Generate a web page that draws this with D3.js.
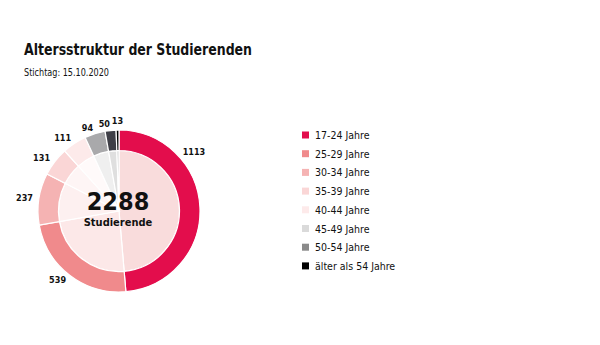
<!DOCTYPE html>
<html><head><meta charset="utf-8">
<script src="https://cdn.jsdelivr.net/npm/d3@7"></script>
<style>
html,body{margin:0;padding:0;background:#fff;}
svg text{font-family:"DejaVu Sans Condensed","Liberation Sans Narrow","Noto Sans",sans-serif;font-stretch:condensed;fill:#111;}
</style></head>
<body><svg id="c" width="600" height="345"></svg>
<script>
const categories = ["17-24 Jahre","25-29 Jahre","30-34 Jahre","35-39 Jahre","40-44 Jahre","45-49 Jahre","50-54 Jahre","älter als 54 Jahre"];
const values = [1113, 539, 237, 131, 111, 94, 50, 13];
const total = 2288;
const titleText = "Altersstruktur der Studierenden";
const subtitleText = "Stichtag: 15.10.2020";
const centerLabel = "Studierende";

const ringColors = ["#e30d4c","#f08a8c","#f5b3b3","#fad6d6","#fdeaea","#a9a9ab","#3f3f47","#000000"];
const innerColors = ["#f9dcdc","#fce8e8","#fdf0f0","#fef5f5","#fffafa","#efefef","#dfdfdf","#cccccc"];
const legendColors = ["#e30d4c","#f08a8c","#f5b3b3","#fad6d6","#fdeaea","#dadada","#8a8a8a","#000000"];

const svg = d3.select("#c");
svg.append("text").attr("x",24).attr("y",55).attr("font-size",16).attr("font-weight","bold")
  .attr("textLength",228).attr("lengthAdjust","spacingAndGlyphs").text(titleText);
svg.append("text").attr("x",24).attr("y",76).attr("font-size",10.5)
  .attr("textLength",85).attr("lengthAdjust","spacingAndGlyphs").text(subtitleText);

const cx = 119, cy = 211, R = 81, r1 = 60.5, rLab = 87;
const g = svg.append("g").attr("transform",`translate(${cx},${cy})`);
const pie = d3.pie().sort(null).value(d=>d)(values);

const innerArc = d3.arc().innerRadius(0).outerRadius(r1);
const ringArc = d3.arc().innerRadius(r1).outerRadius(R);

g.selectAll("path.in").data(pie).join("path").attr("class","in")
  .attr("d",innerArc).attr("fill",(d,i)=>innerColors[i])
  .attr("stroke","#fff").attr("stroke-width",1.2);
g.selectAll("path.ring").data(pie).join("path").attr("class","ring")
  .attr("d",ringArc).attr("fill",(d,i)=>ringColors[i])
  .attr("stroke","#fff").attr("stroke-width",1.2);

const maxOff = 47*Math.PI/180;
const TAU = 2*Math.PI;
g.selectAll("text.lab").data(pie).join("text").attr("class","lab")
  .each(function(d){
    const a = d.startAngle + Math.min((d.endAngle-d.startAngle)/2, maxOff);
    let anchor, r = rLab;
    if (a > TAU - 0.05 || a < 0.05) { anchor = "middle"; r = rLab + 3; }
    else if (a < Math.PI) anchor = "start";
    else anchor = "end";
    d3.select(this).attr("x", r*Math.sin(a)).attr("y", -r*Math.cos(a)).attr("text-anchor", anchor);
  })
  .attr("dominant-baseline","central")
  .attr("font-size",9).attr("font-weight","bold").text(d=>d.data);

g.append("text").attr("x",-1).attr("y",-1).attr("text-anchor","middle")
  .attr("font-size",25).attr("font-weight","bold").text(total);
g.append("text").attr("x",-1).attr("y",15).attr("text-anchor","middle")
  .attr("font-size",11).attr("font-weight","bold").text(centerLabel);

const leg = svg.append("g").attr("transform","translate(302,135)");
const rows = leg.selectAll("g").data(categories).join("g")
  .attr("transform",(d,i)=>`translate(0,${i*18.7})`);
rows.append("rect").attr("x",0).attr("y",-3.5).attr("width",7).attr("height",7)
  .attr("fill",(d,i)=>legendColors[i]);
rows.append("text").attr("x",13).attr("y",0).attr("dominant-baseline","central")
  .attr("font-size",10.5).text(d=>d);
</script></body></html>
